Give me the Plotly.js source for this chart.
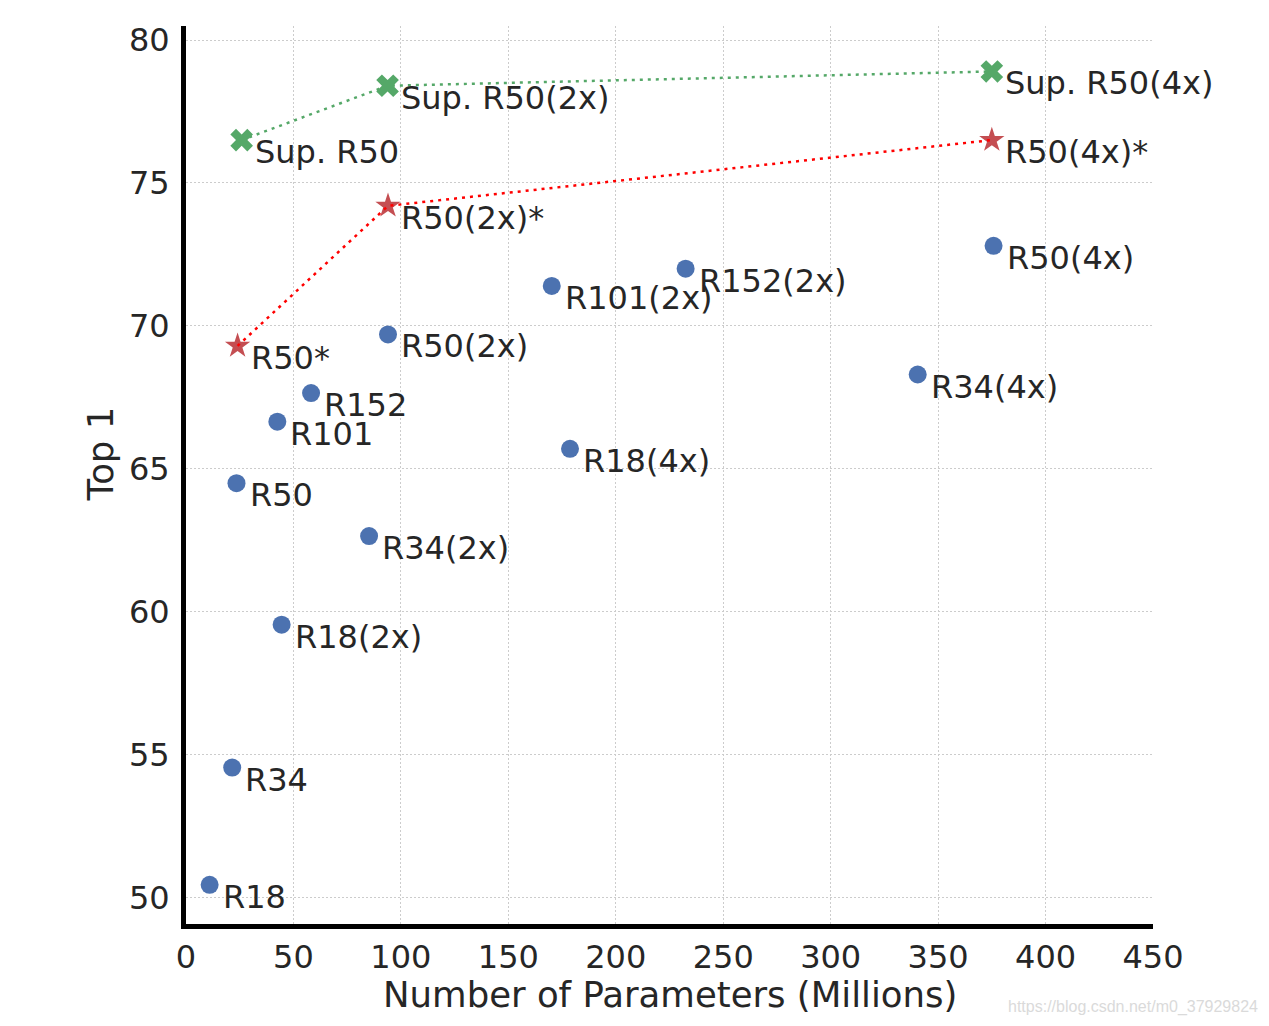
<!DOCTYPE html>
<html>
<head>
<meta charset="utf-8">
<script src="https://cdn.plot.ly/plotly-3.0.1.min.js"></script>
<style>html,body{margin:0;padding:0;background:#fff;}#chart{width:1269px;height:1026px;}</style>
</head>
<body>
<div id="chart"></div>
<script>
// Baseline (supervised-style self-supervised) ResNet models
const baseLabels = ["R18","R34","R50","R101","R152","R18(2x)","R34(2x)","R50(2x)","R101(2x)","R152(2x)","R18(4x)","R34(4x)","R50(4x)"];
const baseParams = [11, 21.5, 23.5, 42.5, 58.2, 44.5, 85.2, 94, 170.2, 232.5, 178.7, 340.5, 375.8];
const baseTop1   = [50.45, 54.55, 64.5, 66.65, 67.65, 59.55, 62.65, 69.7, 71.4, 72.0, 65.7, 68.3, 72.8];

// SimCLR (starred)
const simLabels = ["R50*","R50(2x)*","R50(4x)*"];
const simParams = [24, 94, 375];
const simTop1   = [69.3, 74.2, 76.5];

// Supervised
const supLabels = ["Sup. R50","Sup. R50(2x)","Sup. R50(4x)"];
const supParams = [25.9, 93.8, 375];
const supTop1   = [76.5, 78.4, 78.9];

const xTicks = [0,50,100,150,200,250,300,350,400,450];
const yTicks = [50,55,60,65,70,75,80];

const FONT = "DejaVu Sans, Verdana, sans-serif";
const TXT = "#262626";
const BLUE = "#4c72b0", RED = "#c44e52", GREEN = "#55a868";

const traces = [
  {x: supParams, y: supTop1, mode: "lines", line: {color: GREEN, width: 2.5, dash: "3px,5px"}, hoverinfo: "skip", showlegend: false},
  {x: supParams, y: supTop1, mode: "markers", marker: {symbol: "x", size: 20, color: GREEN}, showlegend: false},
  {x: simParams, y: simTop1, mode: "markers", marker: {symbol: "star", size: 19, color: RED}, showlegend: false},
  {x: simParams, y: simTop1, mode: "lines", line: {color: "#ff0000", width: 2.5, dash: "3px,5px"}, hoverinfo: "skip", showlegend: false},
  {x: baseParams, y: baseTop1, mode: "markers", marker: {symbol: "circle", size: 18, color: BLUE}, showlegend: false}
];

const annotations = [];
function addLabels(xs, ys, labels) {
  for (let i = 0; i < labels.length; i++) {
    annotations.push({
      x: xs[i], y: ys[i], xref: "x", yref: "y", text: labels[i], showarrow: false,
      xanchor: "left", yanchor: "middle", xshift: 11, yshift: -12,
      font: {family: FONT, size: 32, color: TXT}
    });
  }
}
addLabels(baseParams, baseTop1, baseLabels);
addLabels(simParams, simTop1, simLabels);
addLabels(supParams, supTop1, supLabels);

annotations.push({
  xref: "paper", yref: "paper", x: 0.5, y: -0.079, text: "Number of Parameters (Millions)",
  showarrow: false, xanchor: "center", yanchor: "middle",
  font: {family: FONT, size: 35.5, color: TXT}
});
annotations.push({
  xref: "paper", yref: "paper", x: -0.0884, y: 0.5234, text: "Top 1", textangle: -90,
  showarrow: false, xanchor: "center", yanchor: "middle",
  font: {family: FONT, size: 35.5, color: TXT}
});
annotations.push({
  xref: "paper", yref: "paper", x: 1.1106, y: -0.0924, text: "https://blog.csdn.net/m0_37929824",
  showarrow: false, xanchor: "right", yanchor: "middle",
  font: {family: "Liberation Sans, Arial, sans-serif", size: 16, color: "#dadada"}
});

const axisCommon = {
  showgrid: true, gridcolor: "#cccccc", gridwidth: 1, griddash: "2px,2px",
  showline: true, linecolor: "#000000", linewidth: 5, zeroline: false,
  ticks: "outside", tickcolor: "rgba(0,0,0,0)",
  tickfont: {family: FONT, size: 32, color: TXT}, tickmode: "array"
};

const layout = {
  width: 1269, height: 1026,
  margin: {l: 186, r: 116, t: 26, b: 102, pad: 0},
  paper_bgcolor: "#ffffff", plot_bgcolor: "#ffffff",
  showlegend: false,
  xaxis: Object.assign({}, axisCommon, {range: [0, 450], ticklen: 1, tickvals: xTicks, ticktext: xTicks.map(String)}),
  yaxis: Object.assign({}, axisCommon, {range: [49.08, 80.49], ticklen: 5, tickvals: yTicks, ticktext: yTicks.map(String)}),
  annotations: annotations
};

Plotly.newPlot("chart", traces, layout, {staticPlot: true});
</script>
</body>
</html>
